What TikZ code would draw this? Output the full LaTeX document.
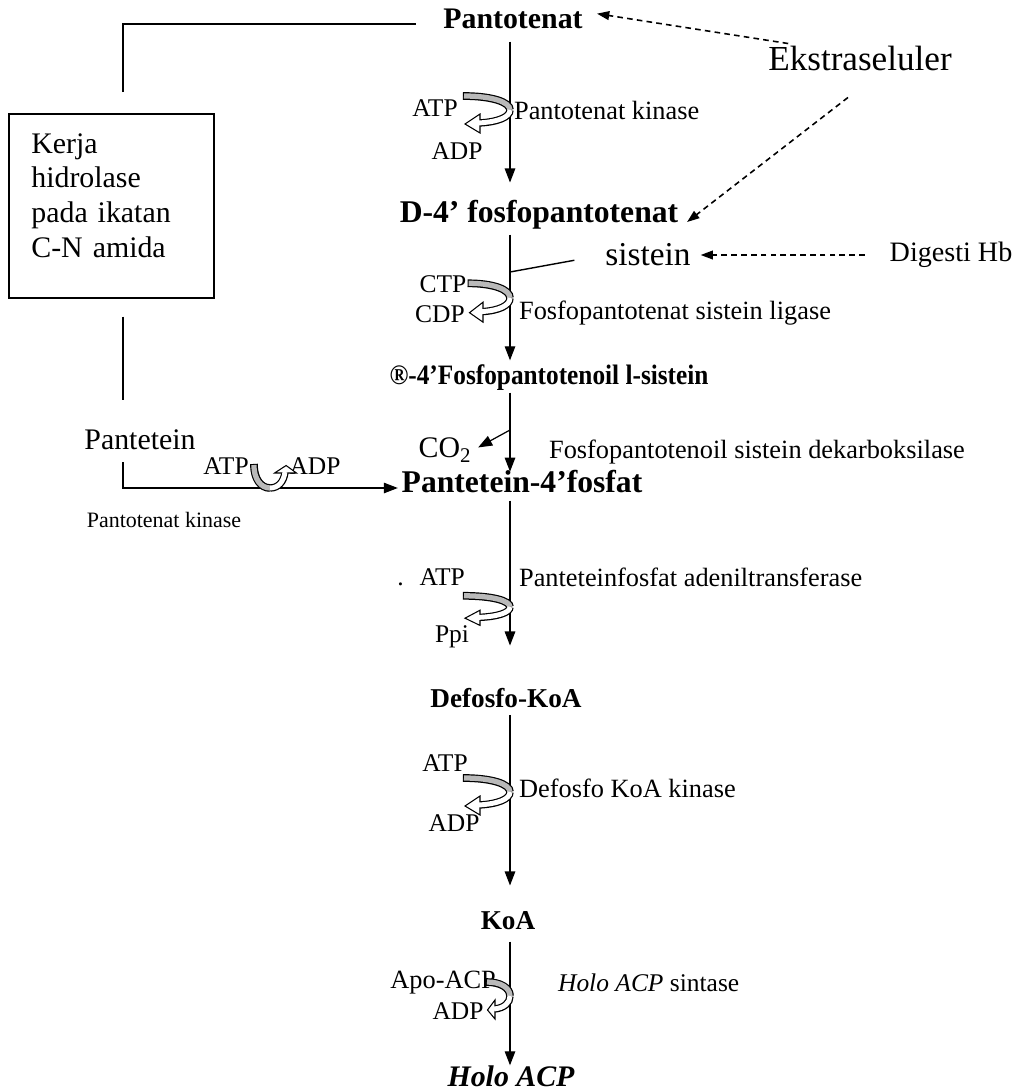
\documentclass[tikz,border=0pt]{standalone}
\usepackage{fontspec}
\setmainfont{Liberation Serif}
\usetikzlibrary{arrows.meta, positioning, calc}
\tikzset{
  main/.style={font=\fontsize{17}{20}\selectfont\bfseries, text height=0.7em, text depth=0.22em, inner sep=2pt},
  big/.style={font=\fontsize{17}{20}\selectfont, inner sep=1pt},
  small/.style={font=\fontsize{14.5}{16}\selectfont, inner sep=1pt},
  enz/.style={font=\fontsize{15}{17}\selectfont, inner sep=1pt, anchor=west},
  hbox/.style={draw, line width=1pt, align=left, font=\fontsize{17}{19.8}\selectfont,
               text width=3.2cm, minimum width=4.1cm, minimum height=3.68cm, anchor=north west},
  arrow/.style={-{Triangle[length=8pt,width=6pt]}, line width=0.7pt},
  dasharrow/.style={-{Triangle[length=7pt,width=5pt]}, line width=0.9pt, dash pattern=on 3.2pt off 2.4pt},
  plain/.style={line width=0.8pt},
}
% ATP -> ADP hook, bend touching the arrow at #2
\newcommand{\cofhook}[2][]{%
  \begin{scope}[shift={#2},#1]
    \draw[line width=4.4pt, shorten <=-0.6pt] (-46,-14) .. controls (-18,-14) and (0,-8) .. (0,0);
    \draw[line width=4.2pt] (0,0) .. controls (0,7) and (-12,12) .. (-31,13);
    \filldraw[fill=white, line width=0.6pt] (-30,4) -- (-45,14) -- (-30,23) -- cycle;
    \draw[line width=3pt, gray!55] (-46,-14) .. controls (-18,-14) and (0,-8) .. (0,0);
    \draw[line width=2.8pt, white] (0,0) .. controls (0,7) and (-12,12) .. (-32,13);
  \end{scope}}

\begin{document}
\begin{tikzpicture}[x=0.02cm, y=-0.02cm]
  \useasboundingbox (0,0) rectangle (1025,1092);
  \coordinate (ax) at (510,0);
  \coordinate (hx) at (123,0);

  % main pathway
  \node[main] (pant) at (513,24)  {Pantotenat};
  \node[main, font=\fontsize{18}{20}\selectfont\bfseries] (d4f) at (539,218) {D-4’ fosfopantotenat};
  \node[main, font=\fontsize{16}{20}\selectfont\bfseries] (rfos) at (549,380) {\scalebox{0.9}[1]{®-4’Fosfopantotenoil l-sistein}};
  \node[main, font=\fontsize{18}{20}\selectfont\bfseries] (p4f) at (522,488) {Pantetein-4’fosfat};
  \node[main, font=\fontsize{15.5}{20}\selectfont\bfseries] (dkoa) at (506,703) {Defosfo-KoA};
  \node[main, font=\fontsize{15.5}{20}\selectfont\bfseries] (koa) at (508,925) {KoA};
  \node[main, font=\fontsize{17}{20}\selectfont\bfseries\itshape] (holo) at (511,1082) {Holo ACP};

  % side texts
  \node[big, font=\fontsize{20}{22}\selectfont] (ekstra) at (860,58) {Ekstraseluler};
  \node[big, font=\fontsize{19}{22}\selectfont] (sist) at (648,255) {sistein};
  \node[big, font=\fontsize{16}{18}\selectfont] (hb) at (951,255) {Digesti Hb};
  \node[big] (co2)    at (445,450) {CO\textsubscript{2}};
  \node[big] (ptein)  at (140,440) {Pantetein};
  \node[hbox] (hidro) at (8,113) {Kerja\\hidrolase\\pada ikatan\\C-N amida\\[-8pt]\mbox{}};

  % cofactors and enzymes
  \node[small] (atp1) at (435,108) {ATP};
  \node[small] (adp1) at (457,151) {ADP};
  \node[enz]   (e1)   at (512,110) {Pantotenat kinase};
  \node[small] (ctp)  at (443,284) {CTP};
  \node[small] (cdp)  at (440,314) {CDP};
  \node[enz]   (e2)   at (517,313) {Fosfopantotenat sistein ligase};
  \node[enz]   (e3)   at (547,452) {Fosfopantotenoil sistein dekarboksilase};
  \node[small, anchor=east] (atp4) at (467,577) {.\hspace{9pt}ATP};
  \node[enz]   (e4)   at (517,577) {Panteteinfosfat adeniltransferase};
  \node[small] (ppi)  at (452,637) {Ppi};
  \node[small] (atp5) at (445,763) {ATP};
  \node[small] (adp5) at (454,823) {ADP};
  \node[enz]   (e5)   at (517,788) {Defosfo KoA kinase};
  \node[small, anchor=east, font=\fontsize{15}{17}\selectfont] (apo) at (498,983) {Apo-ACP};
  \node[small] (adp6) at (458,1011) {ADP};
  \node[enz, font=\fontsize{14.5}{17}\selectfont] (e6) at (556,983) {\textit{Holo ACP} sintase};
  \node[small] (atp3) at (226,466) {ATP};
  \node[small] (adp3) at (315,466) {ADP};
  \node[small, font=\fontsize{12.5}{14}\selectfont] (e7) at (164,520) {Pantotenat kinase};

  % main arrows
  \draw[arrow, shorten <=3.2pt, shorten >=13.4pt] (pant.south -| ax) -- (d4f.north -| ax);
  \draw[arrow, shorten <=2.7pt, shorten >=4.4pt] (d4f.south -| ax) -- (rfos.north -| ax);
  \draw[arrow, shorten <=0.4pt, shorten >=2.5pt] (rfos.south -| ax) -- (p4f.north -| ax);
  \draw[arrow, shorten <=0.4pt, shorten >=25.9pt] (p4f.south -| ax) -- (dkoa.north -| ax);
  \draw[arrow, shorten >=15.7pt] (dkoa.south -| ax) -- (koa.north -| ax);
  \draw[arrow, shorten <=2.7pt, shorten >=2.7pt] (koa.south -| ax) -- (holo.north -| ax);

  % side branches
  \coordinate (br2) at (510,272);
  \coordinate (br3) at (510,430);
  \draw[plain, shorten >=16.7pt] (br2) -- (sist.west);
  \draw[arrow, shorten >=3pt] (br3) -- (co2.east);
  \draw[dasharrow, shorten >=6pt] ([xshift=0.44cm]ekstra.north west) -- (pant.north east);
  \draw[dasharrow] ($(ekstra.south)+(-12,25)$) -- ($(d4f.east)+(5,4)$);
  \draw[dasharrow, shorten <=13pt, shorten >=4.5pt] (hb.west) -- (sist.east);

  % hydrolase route
  \draw[plain, shorten <=11.9pt, shorten >=13.6pt] (hidro.north -| hx) |- (pant.west);
  \draw[plain, shorten <=10.2pt, shorten >=15.9pt] (hidro.south -| hx) -- (ptein.north -| hx);
  \draw[arrow, shorten <=5.7pt] (ptein.south -| hx) |- (p4f.west);

  % cofactor hooks
  \cofhook{(510,110)}
  \cofhook[yscale=1.05, xscale=0.9]{(510,298)}
  \cofhook[yscale=0.8]{(510,607)}
  \cofhook{(510,792)}
  \cofhook[xscale=0.5]{(510,996)}
  \cofhook[cm={0,-1,-1,0,(0,0)}, xscale=0.5, yscale=1.15]{(270,488)}
\end{tikzpicture}
\end{document}
